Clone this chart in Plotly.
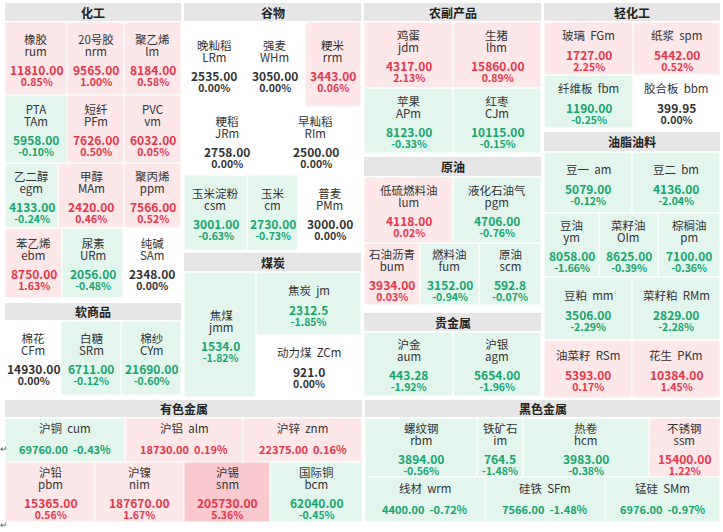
import plotly.graph_objects as go

FONT = "Noto Sans CJK SC, Noto Sans, sans-serif"

# ---------------- data ----------------
chem_names = ["橡胶", "20号胶", "聚乙烯", "PTA", "短纤", "PVC", "乙二醇", "甲醇", "聚丙烯", "苯乙烯", "尿素", "纯碱"]
chem_codes = ["rum", "nrm", "lm", "TAm", "PFm", "vm", "egm", "MAm", "ppm", "ebm", "URm", "SAm"]
chem_prices = ["11810.00", "9565.00", "8184.00", "5958.00", "7626.00", "6032.00", "4133.00", "2420.00", "7566.00", "8750.00", "2056.00", "2348.00"]
chem_pcts = [0.85, 1.00, 0.58, -0.10, 0.50, 0.05, -0.24, 0.46, 0.52, 1.63, -0.48, 0.00]

soft_names = ["棉花", "白糖", "棉纱"]
soft_codes = ["CFm", "SRm", "CYm"]
soft_prices = ["14930.00", "6711.00", "21690.00"]
soft_pcts = [0.00, -0.12, -0.60]

grain_names = ["晚籼稻", "强麦", "粳米", "粳稻", "早籼稻", "玉米淀粉", "玉米", "普麦"]
grain_codes = ["LRm", "WHm", "rrm", "JRm", "RIm", "csm", "cm", "PMm"]
grain_prices = ["2535.00", "3050.00", "3443.00", "2758.00", "2500.00", "3001.00", "2730.00", "3000.00"]
grain_pcts = [0.00, 0.00, 0.06, 0.00, 0.00, -0.63, -0.73, 0.00]

coal_names = ["焦煤", "焦炭", "动力煤"]
coal_codes = ["jmm", "jm", "ZCm"]
coal_prices = ["1534.0", "2312.5", "921.0"]
coal_pcts = [-1.82, -1.85, 0.00]

agri_names = ["鸡蛋", "生猪", "苹果", "红枣"]
agri_codes = ["jdm", "lhm", "APm", "CJm"]
agri_prices = ["4317.00", "15860.00", "8123.00", "10115.00"]
agri_pcts = [2.13, 0.89, -0.33, -0.15]

oil_names = ["低硫燃料油", "液化石油气", "石油沥青", "燃料油", "原油"]
oil_codes = ["lum", "pgm", "bum", "fum", "scm"]
oil_prices = ["4118.00", "4706.00", "3934.00", "3152.00", "592.8"]
oil_pcts = [0.02, -0.76, 0.03, -0.94, -0.07]

prec_names = ["沪金", "沪银"]
prec_codes = ["aum", "agm"]
prec_prices = ["443.28", "5654.00"]
prec_pcts = [-1.92, -1.96]

light_names = ["玻璃", "纸浆", "纤维板", "胶合板"]
light_codes = ["FGm", "spm", "fbm", "bbm"]
light_prices = ["1727.00", "5442.00", "1190.00", "399.95"]
light_pcts = [2.25, 0.52, -0.25, 0.00]

fat_names = ["豆一", "豆二", "豆油", "菜籽油", "棕榈油", "豆粕", "菜籽粕", "油菜籽", "花生"]
fat_codes = ["am", "bm", "ym", "OIm", "pm", "mm", "RMm", "RSm", "PKm"]
fat_prices = ["5079.00", "4136.00", "8058.00", "8625.00", "7100.00", "3506.00", "2829.00", "5393.00", "10384.00"]
fat_pcts = [-0.12, -2.04, -1.66, -0.39, -0.36, -2.29, -2.28, 0.17, 1.45]

nonf_names = ["沪铜", "沪铝", "沪锌", "沪铅", "沪镍", "沪锡", "国际铜"]
nonf_codes = ["cum", "alm", "znm", "pbm", "nim", "snm", "bcm"]
nonf_prices = ["69760.00", "18730.00", "22375.00", "15365.00", "187670.00", "205730.00", "62040.00"]
nonf_pcts = [-0.43, 0.19, 0.16, 0.56, 1.67, 5.36, -0.45]

ferr_names = ["螺纹钢", "铁矿石", "热卷", "不锈钢", "线材", "硅铁", "锰硅"]
ferr_codes = ["rbm", "im", "hcm", "ssm", "wrm", "SFm", "SMm"]
ferr_prices = ["3894.00", "764.5", "3983.00", "15400.00", "4400.00", "7566.00", "6976.00"]
ferr_pcts = [-0.56, -1.48, -0.38, 1.22, -0.72, -1.48, -0.97]

# ---------------- layout grid (pixel page coordinates) ----------------
# ('row', y0, y1, x-boundaries, style) or ('col', x0, x1, y-boundaries, style)
groups = [
    ("化工", (5, 181), (3, 21), (chem_names, chem_codes, chem_prices, chem_pcts), [
        ("row", 22, 95, [5, 67, 124, 181], "stack"),
        ("row", 95, 163, [5, 67, 124, 181], "stack"),
        ("row", 163, 228, [5, 58, 124, 181], "stack"),
        ("row", 228, 298, [5, 62, 123, 181], "stack")]),
    ("软商品", (5, 181), (303, 320), (soft_names, soft_codes, soft_prices, soft_pcts), [
        ("row", 321, 395, [5, 61, 121, 181], "stack")]),
    ("谷物", (184, 361), (3, 21), (grain_names, grain_codes, grain_prices, grain_pcts), [
        ("row", 22, 107, [184, 244, 305, 361], "stack"),
        ("row", 107, 175, [184, 270, 361], "stack"),
        ("row", 175, 250, [184, 247, 298, 361], "stack")]),
    ("煤炭", (184, 361), (253, 271), (coal_names, coal_codes, coal_prices, coal_pcts), [
        ("col", 184, 256, [272, 397], "stack"),
        ("col", 256, 361, [272, 335, 397], "inline")]),
    ("农副产品", (364, 541), (3, 21), (agri_names, agri_codes, agri_prices, agri_pcts), [
        ("row", 22, 88, [364, 453, 541], "stack"),
        ("row", 88, 153, [364, 453, 541], "stack")]),
    ("原油", (364, 541), (157, 176), (oil_names, oil_codes, oil_prices, oil_pcts), [
        ("row", 177, 243, [364, 453, 541], "stack"),
        ("row", 243, 305, [364, 420, 479, 541], "stack")]),
    ("贵金属", (364, 541), (313, 331), (prec_names, prec_codes, prec_prices, prec_pcts), [
        ("row", 332, 396, [364, 453, 541], "stack")]),
    ("轻化工", (544, 720), (3, 21), (light_names, light_codes, light_prices, light_pcts), [
        ("row", 22, 75, [544, 633, 720], "inline"),
        ("row", 75, 128, [544, 633, 720], "inline")]),
    ("油脂油料", (544, 720), (132, 151), (fat_names, fat_codes, fat_prices, fat_pcts), [
        ("row", 152, 213, [544, 632, 720], "inline"),
        ("row", 213, 277, [544, 599, 658, 720], "stack"),
        ("row", 277, 340, [544, 632, 720], "inline"),
        ("row", 340, 398, [544, 632, 720], "inline")]),
    ("有色金属", (5, 362), (400, 417), (nonf_names, nonf_codes, nonf_prices, nonf_pcts), [
        ("row", 418, 462, [5, 125, 243, 362], "wide"),
        ("row", 462, 522, [5, 95, 184, 270, 362], "stack")]),
    ("黑色金属", (365, 720), (400, 417), (ferr_names, ferr_codes, ferr_prices, ferr_pcts), [
        ("row", 418, 477, [365, 477, 523, 649, 720], "stack"),
        ("row", 477, 522, [365, 485, 605, 720], "wide")]),
]

HEAD_FILL = "#e6e6e6"
TXT = "#333333"
NAME_SIZE = 11.5
PRICE_SIZE = 12
PCT_SIZE = 10.5


def fill_color(p):
    if p >= 3:
        return "#f9c9cd"
    if p > 0:
        return "#fde7e9"
    if p < 0:
        return "#e2f6ee"
    return "#ffffff"


def text_color(p):
    if p > 0:
        return "#e8354b"
    if p < 0:
        return "#17a56d"
    return TXT


shapes = []
annotations = []


def add_text(x, y, text, size, color):
    annotations.append(dict(
        x=x, y=y, xref="x", yref="y", showarrow=False, borderpad=0,
        text=text, font=dict(family=FONT, size=size, color=color),
        xanchor="center", yanchor="middle"))


def span(text, size, bold=False):
    t = f"<span style='font-size:{size}px'>{text}</span>"
    return f"<b>{t}</b>" if bold else t


def add_block(x, y, line1, s1, line2, s2, gap, color, bold=False):
    # two lines in one text box; base size sets the line gap (plotly uses 1.3em)
    base = gap / 1.3
    add_text(x, y, span(line1, s1, bold) + "<br>" + span(line2, s2, bold), base, color)


def draw_cell(x0, y0, x1, y1, name, code, price, pct, style):
    shapes.append(dict(type="rect", xref="x", yref="y", x0=x0, y0=y0, x1=x1, y1=y1,
                       fillcolor=fill_color(pct), line=dict(color="#ffffff", width=1),
                       layer="below"))
    cx = (x0 + x1) / 2
    cy = (y0 + y1) / 2
    c = text_color(pct)
    pct_s = f"{pct:.2f}%"
    if style == "stack":
        add_block(cx, cy - 14, name, NAME_SIZE, code, NAME_SIZE, 12, TXT)
        add_block(cx, cy + 16, price, PRICE_SIZE, pct_s, PCT_SIZE, 10.5, c, True)
    elif style == "inline":
        add_text(cx, cy - 14, f"{name}&nbsp;&nbsp;{code}", NAME_SIZE, TXT)
        add_block(cx, cy + 11, price, PRICE_SIZE, pct_s, PCT_SIZE, 10.5, c, True)
    else:
        add_text(cx, cy - 12, f"{name}&nbsp;&nbsp;{code}", NAME_SIZE, TXT)
        add_text(cx, cy + 9, f"<b>{price}&nbsp;&nbsp;{pct_s}</b>", 11, c)


for title, (gx0, gx1), (hy0, hy1), (names, codes, prices, pcts), spec in groups:
    shapes.append(dict(type="rect", xref="x", yref="y", x0=gx0, x1=gx1, y0=hy0, y1=hy1,
                       fillcolor=HEAD_FILL, line=dict(width=0), layer="below"))
    add_text((gx0 + gx1) / 2, (hy0 + hy1) / 2, f"<b>{title}</b>", 12, "#222222")
    k = 0
    for kind, a0, a1, bounds, style in spec:
        for j in range(len(bounds) - 1):
            if kind == "row":
                x0, x1, y0, y1 = bounds[j], bounds[j + 1], a0, a1
            else:
                x0, x1, y0, y1 = a0, a1, bounds[j], bounds[j + 1]
            draw_cell(x0, y0, x1, y1, names[k], codes[k], prices[k], pcts[k], style)
            k += 1

# stray line-break glyphs at the left edge of the screenshot
for yy in (448, 524):
    add_text(4, yy, "↵", 9, "#555555")

fig = go.Figure()
fig.update_layout(
    width=723, height=532,
    margin=dict(l=0, r=0, t=0, b=0),
    paper_bgcolor="#ffffff", plot_bgcolor="#ffffff",
    xaxis=dict(range=[0, 723], visible=False, fixedrange=True),
    yaxis=dict(range=[532, 0], visible=False, fixedrange=True),
    shapes=shapes, annotations=annotations, showlegend=False,
)
fig.write_html("out.html", config=dict(displayModeBar=False),
               post_script="document.body.style.margin='0px';document.body.style.overflow='hidden';")
